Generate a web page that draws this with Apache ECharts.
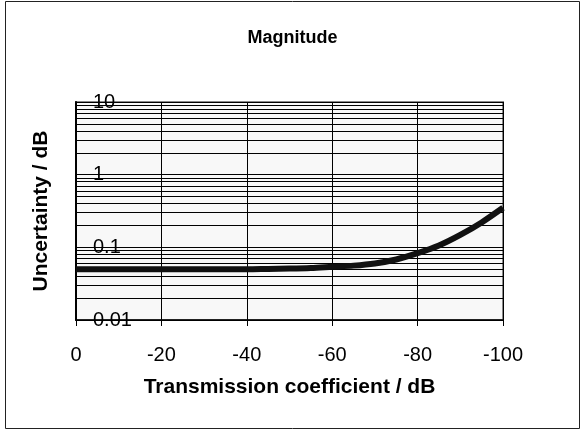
<!DOCTYPE html>
<html>
<head>
<meta charset="utf-8">
<script src="https://cdn.jsdelivr.net/npm/echarts@6/dist/echarts.min.js"></script>
<style>
  html, body { margin: 0; padding: 0; background: #fff; }
  #chart { width: 585px; height: 431px; }
</style>
</head>
<body>
<div id="chart"></div>
<script>
// Transmission coefficient (dB) and the corresponding magnitude uncertainty (dB)
const transmission = [0, -5, -10, -15, -20, -25, -30, -35, -40, -45, -50,
                      -55, -60, -65, -70, -75, -80, -85, -90, -95, -100];
const uncertainty  = [0.050, 0.050, 0.050, 0.050, 0.050, 0.050, 0.050, 0.050, 0.050, 0.0505, 0.051,
                      0.052, 0.054, 0.056, 0.060, 0.068, 0.083, 0.106, 0.148, 0.22, 0.35];

// Decade tick labels on the logarithmic axis
const yTickLabels = { 0.01: '0.01', 0.1: '0.1', 1: '1', 10: '10' };

// Intermediate log grid lines (2..9 within each decade)
const minorGridValues = [
  0.02, 0.03, 0.04, 0.05, 0.06, 0.07, 0.08, 0.09,
  0.2, 0.3, 0.4, 0.5, 0.6, 0.7, 0.8, 0.9,
  2, 3, 4, 5, 6, 7, 8, 9
];

const FONT = '"Liberation Sans", Arial, sans-serif';
const points = transmission.map((x, i) => [x, uncertainty[i]]);

const chart = echarts.init(document.getElementById('chart'), null, { renderer: 'canvas' });

chart.setOption({
  backgroundColor: '#ffffff',
  animation: false,
  title: {
    text: 'Magnitude',
    left: 'center',
    top: 29,
    padding: 0,
    textStyle: { fontFamily: FONT, fontSize: 18, fontWeight: 'bold', color: '#000' }
  },
  graphic: [{
    type: 'rect',
    shape: { x: 5.5, y: 1.5, width: 574, height: 427 },
    style: { fill: 'none', stroke: '#222', lineWidth: 1 },
    silent: true,
    z: -10
  }],
  grid: {
    left: 76, right: 82, top: 102, bottom: 111,
    show: true,
    backgroundColor: '#f8f8f8',
    borderColor: '#888',
    borderWidth: 2
  },
  xAxis: {
    type: 'value',
    min: -100, max: 0, interval: 20,
    inverse: true,
    name: 'Transmission coefficient / dB',
    nameLocation: 'middle',
    nameGap: 57,
    nameTextStyle: { fontFamily: FONT, fontSize: 21, fontWeight: 'bold', color: '#000' },
    axisLine: { show: true, onZero: false, lineStyle: { color: '#000', width: 1.5 } },
    axisTick: { show: true, inside: false, length: 6, lineStyle: { color: '#000' } },
    axisLabel: { fontFamily: FONT, fontSize: 20, color: '#000', margin: 25 },
    splitLine: { show: true, lineStyle: { color: '#000', width: 1 } }
  },
  yAxis: {
    type: 'log',
    logBase: 10,
    min: 0.01, max: 10,
    name: 'Uncertainty / dB',
    nameLocation: 'middle',
    nameGap: 24,
    nameTextStyle: { fontFamily: FONT, fontSize: 21, fontWeight: 'bold', color: '#000' },
    axisLine: { show: true, lineStyle: { color: '#000', width: 2 } },
    axisTick: { show: true, inside: true, length: 6, lineStyle: { color: '#000' } },
    axisLabel: {
      inside: true,
      margin: 17,
      fontFamily: FONT, fontSize: 20, color: '#000',
      formatter: v => yTickLabels[+v.toPrecision(3)] || ''
    },
    splitLine: { show: true, lineStyle: { color: '#000', width: 1 } }
  },
  series: [
    {
      // carries the intermediate horizontal grid lines
      type: 'line',
      data: points,
      showSymbol: false,
      silent: true,
      lineStyle: { opacity: 0 },
      z: 1,
      markLine: {
        silent: true,
        symbol: 'none',
        label: { show: false },
        lineStyle: { color: '#000', width: 1, type: 'solid' },
        data: minorGridValues.map(v => ({ yAxis: v }))
      }
    },
    {
      type: 'line',
      data: points,
      smooth: 0.3,
      showSymbol: false,
      lineStyle: { color: '#111', width: 6, join: 'round', cap: 'butt' },
      z: 5
    }
  ]
});
</script>
</body>
</html>
